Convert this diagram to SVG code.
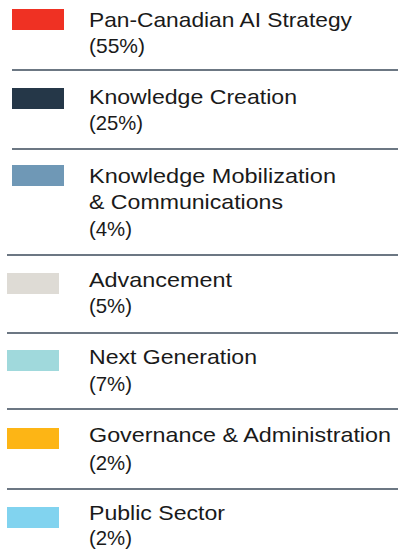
<svg xmlns="http://www.w3.org/2000/svg" width="398" height="549" viewBox="0 0 398 549">
<style>
text{font-family:"Liberation Sans",Arial,sans-serif;font-size:21px;fill:#1a1a1a}
.sep{stroke:#3b4a5a;stroke-width:1.5}
</style>
<rect width="398" height="549" fill="#fff"/>
<g id="pan-canadian">
<rect x="12" y="9" width="52" height="21" fill="#ef3123"/>
<text x="89" y="27" textLength="263" lengthAdjust="spacingAndGlyphs">Pan-Canadian AI Strategy</text>
<text x="89" y="53" textLength="56" lengthAdjust="spacingAndGlyphs">(55%)</text>
</g>
<g id="knowledge-creation">
<rect x="12" y="88" width="52" height="21" fill="#253748"/>
<text x="89" y="104" textLength="208" lengthAdjust="spacingAndGlyphs">Knowledge Creation</text>
<text x="89" y="130" textLength="54" lengthAdjust="spacingAndGlyphs">(25%)</text>
</g>
<g id="knowledge-mobilization">
<rect x="12" y="165" width="52" height="21" fill="#6f98b6"/>
<text x="89" y="183" textLength="247" lengthAdjust="spacingAndGlyphs">Knowledge Mobilization</text>
<text x="89" y="209" textLength="194" lengthAdjust="spacingAndGlyphs">&amp; Communications</text>
<text x="89" y="236" textLength="43" lengthAdjust="spacingAndGlyphs">(4%)</text>
</g>
<g id="advancement">
<rect x="7" y="273" width="52" height="21" fill="#dedbd5"/>
<text x="89" y="287" textLength="143" lengthAdjust="spacingAndGlyphs">Advancement</text>
<text x="89" y="313" textLength="43" lengthAdjust="spacingAndGlyphs">(5%)</text>
</g>
<g id="next-generation">
<rect x="7" y="350" width="52" height="21" fill="#a0d9dc"/>
<text x="89" y="364" textLength="168" lengthAdjust="spacingAndGlyphs">Next Generation</text>
<text x="89" y="391" textLength="43" lengthAdjust="spacingAndGlyphs">(7%)</text>
</g>
<g id="governance">
<rect x="7" y="428" width="52" height="21" fill="#fdb515"/>
<text x="89" y="442" textLength="302" lengthAdjust="spacingAndGlyphs">Governance &amp; Administration</text>
<text x="89" y="470" textLength="43" lengthAdjust="spacingAndGlyphs">(2%)</text>
</g>
<g id="public-sector">
<rect x="7" y="507" width="52" height="21" fill="#81d3ef"/>
<text x="89" y="520" textLength="136" lengthAdjust="spacingAndGlyphs">Public Sector</text>
<text x="89" y="545" textLength="43" lengthAdjust="spacingAndGlyphs">(2%)</text>
</g>
<g id="separators">
<line class="sep" x1="12" y1="70" x2="398" y2="70"/>
<line class="sep" x1="12" y1="149" x2="398" y2="149"/>
<line class="sep" x1="7" y1="255" x2="398" y2="255"/>
<line class="sep" x1="7" y1="333" x2="398" y2="333"/>
<line class="sep" x1="7" y1="409" x2="398" y2="409"/>
<line class="sep" x1="7" y1="489" x2="398" y2="489"/>
</g>
</svg>
